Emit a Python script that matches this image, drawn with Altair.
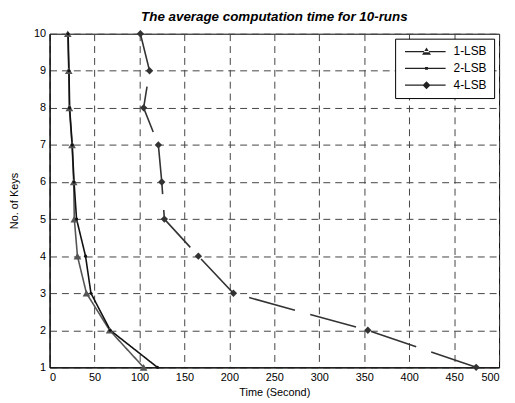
import altair as alt
import pandas as pd

keys = [1, 2, 3, 4, 5, 6, 7, 8, 9, 10]
lsb1 = [104.6, 66.8, 41.0, 31.0, 27.5, 26.8, 25.0, 22.0, 21.3, 20.2]
lsb2 = [120.0, 67.5, 46.0, 40.0, 30.0, 27.2, 25.2, 22.3, 21.6, 20.6]
lsb4 = [474.5, 354.0, 204.5, 165.5, 127.7, 124.8, 121.0, 104.6, 111.2, 101.0]
series = ["1-LSB", "2-LSB", "4-LSB"]
line_colors = ["#555555", "#111111", "#333333"]
marker_shapes = ["triangle-up", "circle", "diamond"]
marker_sizes = [60, 10, 55]
dashes = [[1, 0], [1, 0], [48, 16]]
legend_paths = [
    "M-0.6,-0.13H7.6V0.13H-0.6Z M2.84,0.65L4.64,0.65L3.74,-0.8Z",
    "M-0.6,-0.13H7.6V0.13H-0.6Z M3.44,-0.3H4.04V0.3H3.44Z",
    "M-0.6,-0.13H7.6V0.13H-0.6Z M2.94,0L3.74,-0.8L4.54,0L3.74,0.8Z",
]
x_ticks = list(range(0, 501, 50))

rows = []
for name, vals in zip(series, [lsb1, lsb2, lsb4]):
    for k, v in zip(keys, vals):
        rows.append({"series": name, "keys": k, "time": v})
df = pd.DataFrame(rows)

FONT = "Liberation Sans"

x_enc = alt.X("time:Q", scale=alt.Scale(domain=[0, 500], nice=False),
              axis=alt.Axis(values=x_ticks, title="Time (Second)"))
y_enc = alt.Y("keys:Q", scale=alt.Scale(domain=[1, 10], nice=False),
              axis=alt.Axis(values=keys, title="No. of Keys"))

base = alt.Chart(df)

hidden = base.mark_point(filled=True, color="#222222", size=0.001, opacity=1).encode(
    x=x_enc, y=y_enc,
    shape=alt.Shape("series:N", scale=alt.Scale(domain=series, range=legend_paths),
                    legend=alt.Legend(title=None, orient="top-right", offset=5,
                                      strokeColor="black", fillColor="white",
                                      padding=7, symbolSize=100, symbolStrokeWidth=0,
                                      symbolOpacity=1,
                                      labelFont=FONT, labelFontSize=12, labelColor="black",
                                      labelOffset=40, rowPadding=5)),
)

lines = base.mark_line(strokeWidth=1.6).encode(
    x=x_enc, y=y_enc,
    color=alt.Color("series:N", scale=alt.Scale(domain=series, range=line_colors), legend=None),
    strokeDash=alt.StrokeDash("series:N", scale=alt.Scale(domain=series, range=dashes), legend=None),
    order=alt.Order("keys:Q"),
)

marker_layers = []
for name, shp, sz, col in zip(series, marker_shapes, marker_sizes, line_colors):
    marker_layers.append(
        base.transform_filter(alt.datum.series == name)
        .mark_point(filled=True, opacity=1, shape=shp, size=sz, color=col)
        .encode(x=x_enc, y=y_enc)
    )

chart = alt.layer(hidden, lines, *marker_layers).properties(
    width=454, height=337,
    title=alt.TitleParams("The average computation time for 10-runs", font=FONT,
                          fontSize=13.5, fontStyle="italic", fontWeight="bold",
                          anchor="middle", offset=4, color="black"),
    autosize=alt.AutoSizeParams(type="none"),
    padding={"left": 42, "top": 24, "right": 8, "bottom": 32},
).configure_axis(
    labelFont=FONT, labelFontSize=11, labelColor="black",
    titleFont=FONT, titleFontSize=11, titleFontWeight="normal", titleColor="black",
    domainColor="black", domainWidth=1, ticks=False, labelPadding=4,
    grid=True, gridColor="#444444", gridDash=[7, 5], gridWidth=1, gridOpacity=1,
).configure_axisY(titlePadding=14).configure_axisX(titlePadding=4).configure_view(
    stroke="black", strokeWidth=1
)

chart.save("out.html", embed_options={"renderer": "svg", "actions": False})
